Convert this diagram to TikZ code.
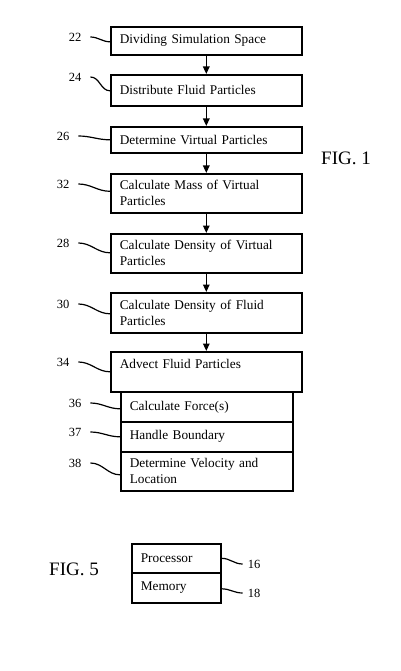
\documentclass[tikz,border=0pt]{standalone}
\usepackage{fontspec}
\setmainfont{Liberation Serif}
\usetikzlibrary{arrows.meta}
\tikzset{
  stepbox/.style={draw, line width=1.6pt, anchor=north west, inner xsep=9pt, inner ysep=0pt,
    align=left, font=\fontsize{13.3}{16}\selectfont},
  mainbox/.style={stepbox, minimum width=191pt, text width=173pt},
  subbox/.style={stepbox, minimum width=172pt, text width=154pt},
  hwbox/.style={stepbox, minimum width=89pt, text width=71pt},
  reflabel/.style={inner sep=0pt, font=\fontsize{12.5}{14}\selectfont},
  figlabel/.style={inner sep=0pt, font=\fontsize{19}{22}\selectfont},
  flow/.style={line width=1.5pt, -{Triangle[width=6.5pt,length=7.5pt]}},
  leader/.style={line width=1.2pt}
}
\begin{document}
\begin{tikzpicture}[x=1pt,y=-1pt]
\useasboundingbox (0,0) rectangle (400,671);
% main flow
\node[mainbox, minimum height=28pt] (b1) at (110,26) {Dividing Simulation Space};
\node[mainbox, minimum height=31pt] (b2) at (110,74) {Distribute Fluid Particles};
\node[mainbox, minimum height=26pt] (b3) at (110,126) {Determine Virtual Particles};
\node[mainbox, minimum height=39pt] (b4) at (110,173) {Calculate Mass of Virtual\\Particles};
\node[mainbox, minimum height=39pt] (b5) at (110,233) {Calculate Density of Virtual\\Particles};
\node[mainbox, minimum height=40pt] (b6) at (110,292) {Calculate Density of Fluid\\Particles};
\node[mainbox, minimum height=40pt] (b7) at (110,351) {Advect Fluid Particles\\\mbox{}};
\node[subbox, minimum height=30pt] (s36) at (120,391) {Calculate Force(s)};
\node[subbox, minimum height=30pt] (s37) at (120,421) {Handle Boundary};
\node[subbox, minimum height=39pt] (s38) at (120,451) {Determine Velocity and\\Location};
% arrows
\draw[flow] (b1.south) -- (b2.north);
\draw[flow] (b2.south) -- (b3.north);
\draw[flow] (b3.south) -- (b4.north);
\draw[flow] (b4.south) -- (b5.north);
\draw[flow] (b5.south) -- (b6.north);
\draw[flow] (b6.south) -- (b7.north);
% reference labels
\node[reflabel] (l22) at (75,37) {22};
\node[reflabel] (l24) at (75,77) {24};
\node[reflabel] (l26) at (63,136) {26};
\node[reflabel] (l32) at (63,184) {32};
\node[reflabel] (l28) at (63,243) {28};
\node[reflabel] (l30) at (63,304) {30};
\node[reflabel] (l34) at (63,362) {34};
\node[reflabel] (l36) at (75,403) {36};
\node[reflabel] (l37) at (75,432) {37};
\node[reflabel] (l38) at (75,463) {38};
% leaders
\draw[leader] ([xshift=9pt]l22.east) to[out=0,in=180] ([yshift=-1pt]b1.west);
\draw[leader] ([xshift=9pt]l24.east) to[out=0,in=180] ([yshift=-0.5pt]b2.west);
\draw[leader] ([xshift=9pt]l26.east) to[out=0,in=180] ([yshift=0pt]b3.west);
\draw[leader] ([xshift=9pt]l32.east) to[out=0,in=180] ([yshift=2pt]b4.west);
\draw[leader] ([xshift=9pt]l28.east) to[out=0,in=180] ([yshift=0.5pt]b5.west);
\draw[leader] ([xshift=9pt]l30.east) to[out=0,in=180] ([yshift=-1pt]b6.west);
\draw[leader] ([xshift=9pt]l34.east) to[out=0,in=180] ([yshift=0pt]b7.west);
\draw[leader] ([xshift=9pt]l36.east) to[out=0,in=180] ([yshift=-2pt]s36.west);
\draw[leader] ([xshift=9pt]l37.east) to[out=0,in=180] ([yshift=0pt]s37.west);
\draw[leader] ([xshift=9pt]l38.east) to[out=0,in=180] ([yshift=-3.5pt]s38.west);
% fig labels
\node[figlabel] (fig1) at (346,158) {FIG. 1};
\node[figlabel] (fig5) at (74,569) {FIG. 5};
% fig 5 boxes
\node[hwbox, minimum height=29pt] (proc) at (131,543) {Processor};
\node[hwbox, minimum height=30pt] (mem) at (131,572) {Memory};
\node[reflabel] (l16) at (254,564) {16};
\node[reflabel] (l18) at (254,593) {18};
\draw[leader] (proc.east) to[out=0,in=180] ([xshift=-5pt]l16.west);
\draw[leader] ([yshift=-1pt]mem.east) to[out=0,in=180] ([xshift=-5pt]l18.west);
\end{tikzpicture}
\end{document}
